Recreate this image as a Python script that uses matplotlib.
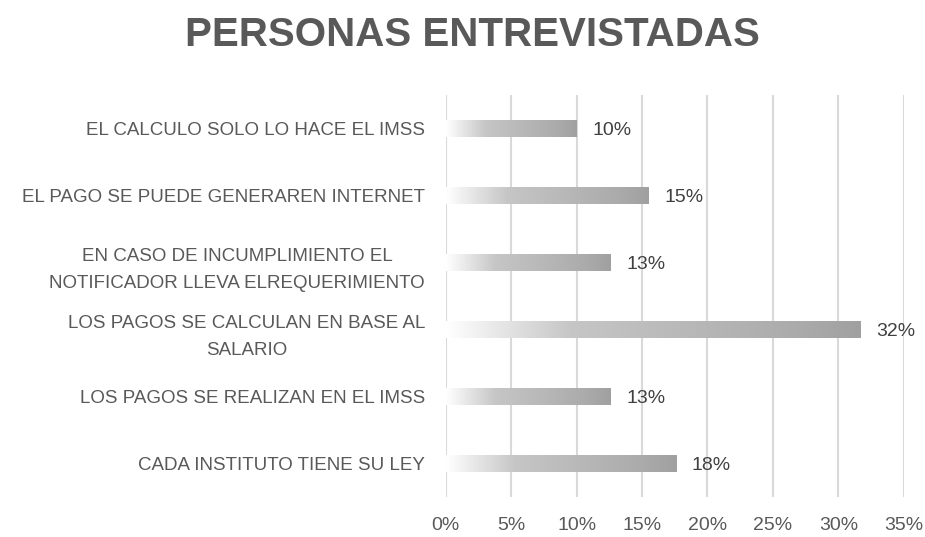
import numpy as np
import matplotlib
matplotlib.use("Agg")
from matplotlib import pyplot as plt
from matplotlib.colors import LinearSegmentedColormap

categories = [
    "EL CALCULO SOLO LO HACE EL IMSS",
    "EL PAGO SE PUEDE GENERAREN INTERNET",
    "EN CASO DE INCUMPLIMIENTO EL\nNOTIFICADOR LLEVA ELREQUERIMIENTO",
    "LOS PAGOS SE CALCULAN EN BASE AL\nSALARIO",
    "LOS PAGOS SE REALIZAN EN EL IMSS",
    "CADA INSTITUTO TIENE SU LEY",
]
values = [10.0, 15.5, 12.6, 31.7, 12.6, 17.6]
value_labels = ["10%", "15%", "13%", "32%", "13%", "18%"]
xticks = [0, 5, 10, 15, 20, 25, 30, 35]

plt.rcParams["font.family"] = ["Liberation Sans", "DejaVu Sans"]

fig = plt.figure(figsize=(9.25, 5.37), dpi=100)
ax = fig.add_axes([0.482, 0.074, 0.495, 0.749])

cmap = LinearSegmentedColormap.from_list(
    "bar", [(0, "#ffffff"), (0.3, "#c6c6c6"), (0.85, "#ababab"), (1, "#a0a0a0")])
grad = np.linspace(0, 1, 256).reshape(1, -1)

h = 0.24
n = len(categories)
for i, (v, lab) in enumerate(zip(values, value_labels)):
    y = n - 1 - i
    ax.imshow(grad, cmap=cmap, aspect="auto", extent=[0, v, y - h / 2, y + h / 2],
              zorder=3, interpolation="bilinear")
    ax.text(v + 1.2, y - 0.03, lab, va="center", ha="left", fontsize=14,
            color="#404040", zorder=4)

ax.set_xlim(0, 35)
ax.set_ylim(-0.5, n - 0.5)
ax.set_xticks(xticks)
ax.set_xticklabels([f"{t}%" for t in xticks], fontsize=14, color="#595959")
ax.set_yticks(range(n))
ax.set_yticklabels(categories[::-1], fontsize=13.5, color="#595959",
                   multialignment="center", linespacing=1.8)
ax.tick_params(length=0, pad=15, axis="y")
ax.tick_params(length=0, pad=14, axis="x")
ax.grid(axis="x", color="#d9d9d9", linewidth=1.5, zorder=0)
for s in ax.spines.values():
    s.set_visible(False)

fig.text(0.511, 0.935, "PERSONAS ENTREVISTADAS", ha="center", va="center",
         fontsize=29, fontweight="bold", color="#595959")

fig.savefig("out.png", dpi=100)
